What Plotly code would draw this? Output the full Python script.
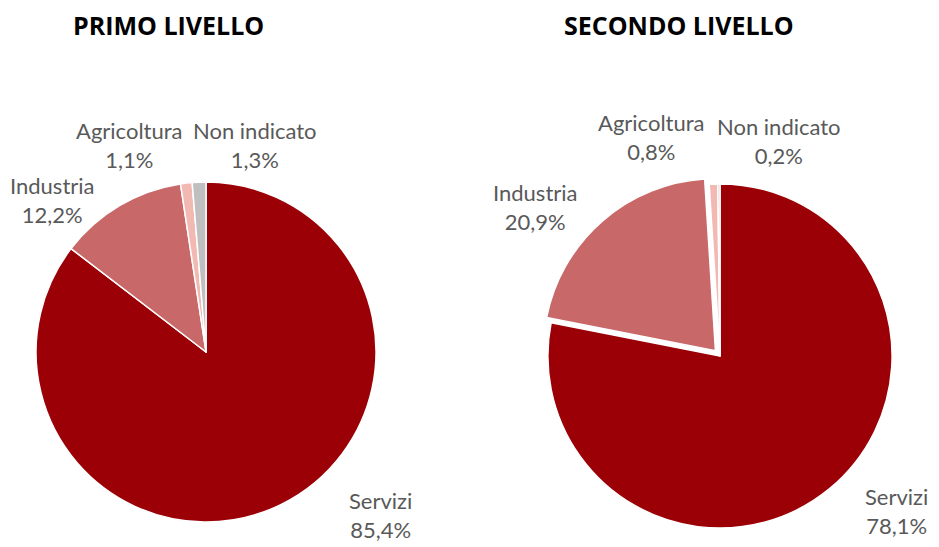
import plotly.graph_objects as go

categories = ['Servizi', 'Industria', 'Agricoltura', 'Non indicato']
primo_values = [85.4, 12.2, 1.1, 1.3]
secondo_values = [78.1, 20.9, 0.8, 0.2]
titles = ['PRIMO LIVELLO', 'SECONDO LIVELLO']

slice_colors = ['#9A0006', '#C96868', '#F2B8B2', '#BFBFBF']

# page body has an 8px margin, so the figure is a bit smaller than the window
W, H = 931, 539


def label_text(cat, v):
    # Italian decimal comma
    return f"{cat}<br>{v:.1f}%".replace('.', ',')


fig = go.Figure()

fig.add_trace(go.Pie(
    labels = categories,
    values = primo_values,
    textinfo = 'none',
    sort = False,
    direction = 'clockwise',
    rotation = 0,
    marker = dict(colors = slice_colors, line = dict(color = 'white', width = 1.5)),
    domain = dict(x = [0.0301, 0.3953], y = [0.0464, 0.6772]),
    showlegend = False,
    hoverinfo = 'label+percent',
))

fig.add_trace(go.Pie(
    labels = categories,
    values = secondo_values,
    textinfo = 'none',
    sort = False,
    direction = 'clockwise',
    rotation = 0,
    pull = [0, 0.04, 0, 0],
    marker = dict(colors = slice_colors, line = dict(color = 'white', width = 1.5)),
    domain = dict(x = [0.5725, 0.957], y = [0.0223, 0.6865]),
    showlegend = False,
    hoverinfo = 'label+percent',
))

# data label placement (paper coords), Excel-style
label_pos = [
    [(0.3996, 0.0590), (0.0483, 0.6438), (0.1310, 0.7458), (0.2653, 0.7458)],
    [(0.9540, 0.0668), (0.5661, 0.6308), (0.6917, 0.7607), (0.8281, 0.7532)],
]
for values, positions in zip([primo_values, secondo_values], label_pos):
    for cat, v, (lx, ly) in zip(categories, values, positions):
        fig.add_annotation(
            text = label_text(cat, v), x = lx, y = ly, xref = 'paper', yref = 'paper',
            showarrow = False, xanchor = 'center', yanchor = 'middle', align = 'center',
            font = dict(family = 'Lato', size = 22, color = '#595959'),
        )

for title, xpos in zip(titles, [0.1719, 0.7207]):
    fig.add_annotation(
        text = f"<b>{title}</b>", x = xpos, y = 0.9685, xref = 'paper', yref = 'paper',
        showarrow = False, xanchor = 'center', yanchor = 'middle',
        font = dict(family = 'Open Sans', size = 25, color = 'black'),
    )

fig.update_layout(
    width = W, height = H,
    margin = dict(l = 0, r = 0, t = 0, b = 0),
    paper_bgcolor = 'white',
    plot_bgcolor = 'white',
    font = dict(family = 'Lato', size = 22, color = '#595959'),
)

fig.write_html("out.html")
